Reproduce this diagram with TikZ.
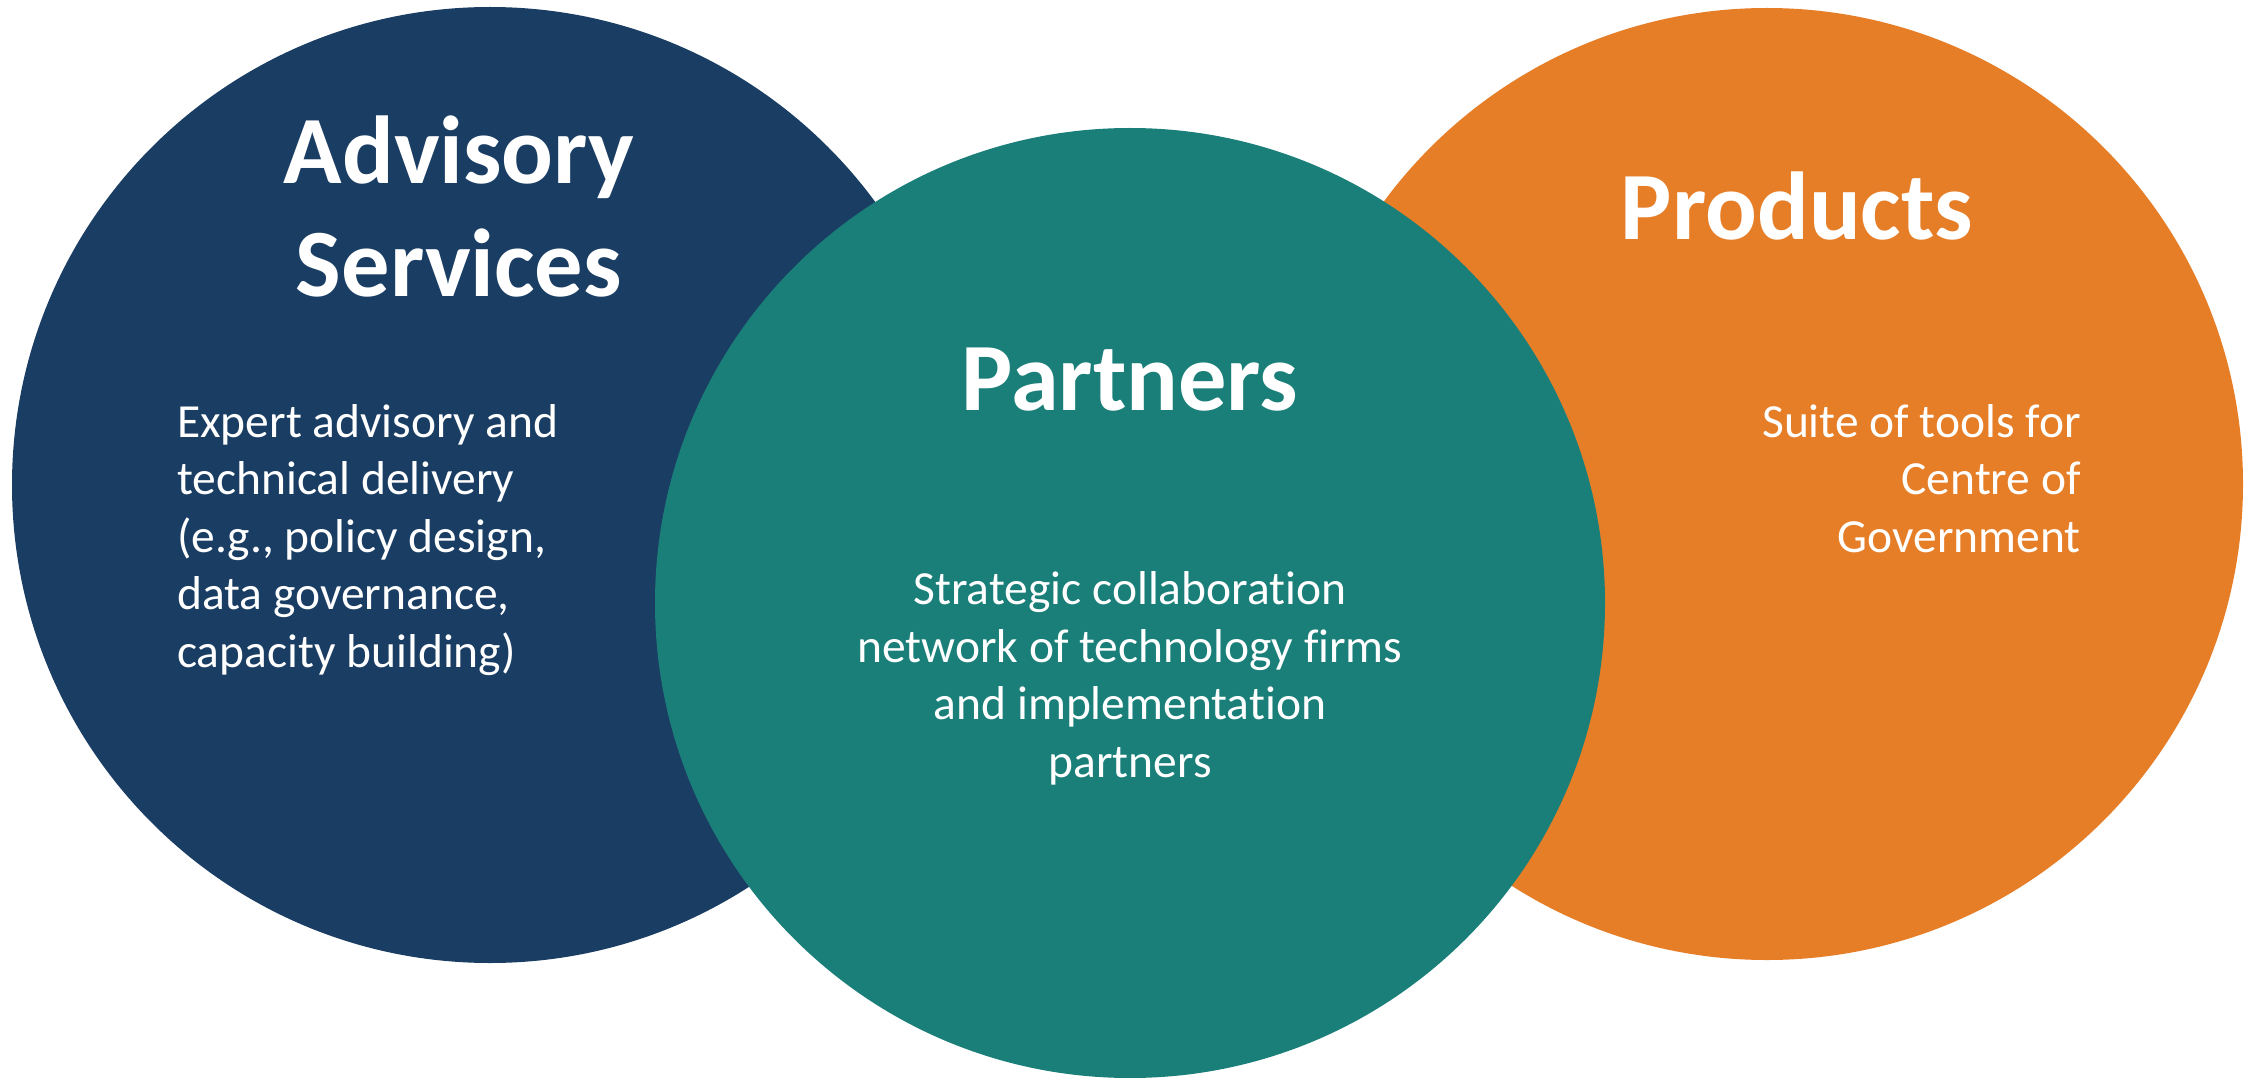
\documentclass[tikz,border=0pt]{standalone}
\usepackage{fontspec}
\setmainfont{Carlito}[Ligatures=NoCommon]
\definecolor{navyc}{HTML}{1A3D63}
\definecolor{tealc}{HTML}{1B7F79}
\definecolor{orangec}{HTML}{E67E28}
\begin{document}
\begin{tikzpicture}[x=1pt,y=-1pt,
  disc/.style={draw=none},
  title/.style={text=white,font=\fontsize{96.5}{114}\selectfont\bfseries,inner sep=0pt,align=center,anchor=base},
  body/.style={text=white,font=\fontsize{47.5}{57.5}\selectfont,inner sep=0pt}]
\useasboundingbox (0,0) rectangle (2255,1078);
\fill[navyc,disc] (490,485) circle (478);
\fill[orangec,disc] (1767,484) circle (476);
\fill[tealc,disc] (1130,603) circle (475);
% multi-line nodes: base anchor = baseline of last line
\node[title] (tadv) at (459,297) {Advisory\\Services};
\node[title] (tpar) at (1130,410) {Partners};
\node[title] (tpro) at (1797,240) {Products};
\node[body,align=left,anchor=base west] (badv) at (177,667) {Expert advisory and\\technical delivery\\(e.g., policy design,\\data governance,\\capacity building)};
\node[body,align=center,anchor=base] (bpar) at (1130,777) {Strategic collaboration\\network of technology firms\\and implementation\\partners};
\node[body,align=right,anchor=base east] (bpro) at (2081,552) {Suite of tools for\\Centre of\\Government};
\end{tikzpicture}
\end{document}
